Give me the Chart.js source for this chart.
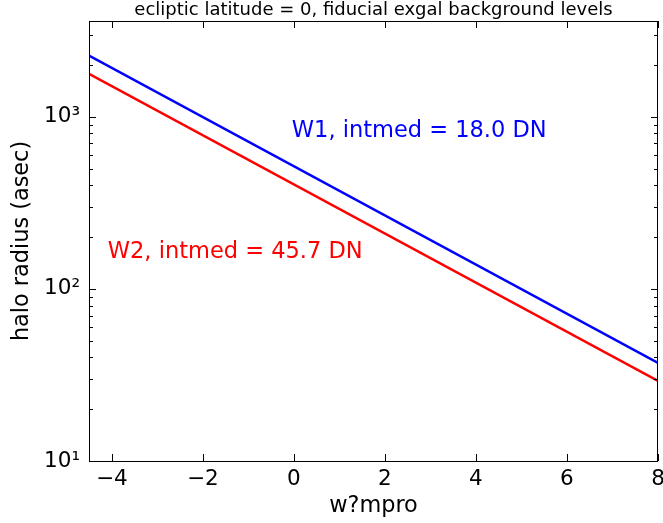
<!DOCTYPE html>
<html>
<head>
<meta charset="utf-8">
<script src="https://cdn.jsdelivr.net/npm/chart.js@4/dist/chart.umd.min.js"></script>
<style>
html,body{margin:0;padding:0;background:#fff;}
#wrap{width:663px;height:523px;}
</style>
</head>
<body>
<div id="wrap"><canvas id="c" width="663" height="523"></canvas></div>
<script>
const magnitudes = [-4.5, 8];
const w1Radius = [2265, 37.2];
const w2Radius = [1778, 29.2];
const xTicks = [-4, -2, 0, 2, 4, 6, 8];
const yTicks = [10, 100, 1000];
const yTickLabels = ['10\u00b9', '10\u00b2', '10\u00b3'];
const titleText = 'ecliptic latitude = 0, fiducial exgal background levels';
const xTitle = 'w?mpro';
const yTitle = 'halo radius (asec)';
const w1Label = 'W1, intmed = 18.0 DN';
const w2Label = 'W2, intmed = 45.7 DN';

const FONT = 'DejaVu Sans';

const framePlugin = {
  id: 'frame',
  afterDatasetsDraw(chart) {
    const ctx = chart.ctx;
    const a = chart.chartArea;
    const xs = chart.scales.x, ys = chart.scales.y;
    ctx.save();
    ctx.strokeStyle = '#000';
    ctx.lineWidth = 1;
    ctx.strokeRect(a.left + 0.5, a.top + 0.5, a.right - a.left - 1, a.bottom - a.top);
    ctx.beginPath();
    xTicks.forEach(v => {
      const px = Math.round(xs.getPixelForValue(v)) + 0.5;
      ctx.moveTo(px, a.bottom); ctx.lineTo(px, a.bottom - 7);
      ctx.moveTo(px, a.top); ctx.lineTo(px, a.top + 7);
    });
    for (let d = 1; d <= 3; d++) {
      for (let m = 1; m <= 9; m++) {
        const v = m * Math.pow(10, d);
        if (v < ys.min || v > ys.max) continue;
        const py = Math.round(ys.getPixelForValue(v)) + 0.5;
        const len = m === 1 ? 7 : 4;
        ctx.moveTo(a.left, py); ctx.lineTo(a.left + len, py);
        ctx.moveTo(a.right, py); ctx.lineTo(a.right - len, py);
      }
    }
    ctx.stroke();
    ctx.font = '22.5px "' + FONT + '"';
    ctx.textBaseline = 'alphabetic';
    ctx.textAlign = 'left';
    ctx.fillStyle = '#0000ff';
    ctx.fillText(w1Label, xs.getPixelForValue(0) - 2, 137);
    ctx.fillStyle = '#ff0000';
    ctx.fillText(w2Label, xs.getPixelForValue(-4.0) - 4, 258);
    ctx.fillStyle = '#000';
    ctx.font = '18px "' + FONT + '"';
    ctx.textAlign = 'center';
    ctx.fillText(titleText, (a.left + a.right) / 2, 15);
    ctx.restore();
  }
};

new Chart(document.getElementById('c'), {
  type: 'line',
  data: {
    datasets: [
      { label: 'W1', data: magnitudes.map((x, i) => ({x, y: w1Radius[i]})), borderColor: '#0000ff', borderWidth: 2.5, pointRadius: 0, fill: false, tension: 0 },
      { label: 'W2', data: magnitudes.map((x, i) => ({x, y: w2Radius[i]})), borderColor: '#ff0000', borderWidth: 2.5, pointRadius: 0, fill: false, tension: 0 }
    ]
  },
  options: {
    responsive: false,
    animation: false,
    devicePixelRatio: 1,
    layout: { padding: { top: 21, right: 5, left: 0, bottom: 0 } },
    plugins: { legend: { display: false }, tooltip: { enabled: false }, title: { display: false } },
    scales: {
      x: {
        type: 'linear', min: -4.5, max: 8,
        afterBuildTicks: s => { s.ticks = xTicks.map(v => ({value: v})); },
        afterFit: s => { s.height = 62; s.paddingLeft = 0; s.paddingRight = 0; },
        grid: { display: false, drawTicks: false },
        border: { display: false },
        ticks: { color: '#000', font: { family: FONT, size: 21.5 }, padding: 6, maxRotation: 0, autoSkip: false,
          callback: v => (v < 0 ? '\u2212' + Math.abs(v) : String(v)) },
        title: { display: true, text: xTitle, color: '#000', font: { family: FONT, size: 22.4 }, padding: { top: 0, bottom: 3 } }
      },
      y: {
        type: 'logarithmic', min: 10, max: 3600,
        afterBuildTicks: s => { s.ticks = yTicks.map(v => ({value: v})); },
        afterFit: s => { s.width = 89; s.paddingTop = 0; s.paddingBottom = 0; },
        grid: { display: false, drawTicks: false },
        border: { display: false },
        ticks: { color: '#000', font: { family: FONT, size: 21.5 }, padding: 9,
          callback: (v) => { const i = yTicks.indexOf(v); return i >= 0 ? yTickLabels[i] : ''; } },
        title: { display: true, text: yTitle, color: '#000', font: { family: FONT, size: 22.4 }, padding: { top: 9, bottom: 0 } }
      }
    }
  },
  plugins: [framePlugin]
});
</script>
</body>
</html>
